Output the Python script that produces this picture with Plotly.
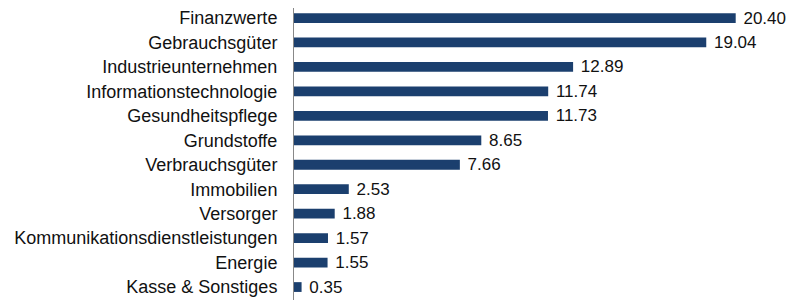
import plotly.graph_objects as go

categories = ["Finanzwerte", "Gebrauchsgüter", "Industrieunternehmen", "Informationstechnologie",
              "Gesundheitspflege", "Grundstoffe", "Verbrauchsgüter", "Immobilien", "Versorger",
              "Kommunikationsdienstleistungen", "Energie", "Kasse & Sonstiges"]
values = [20.40, 19.04, 12.89, 11.74, 11.73, 8.65, 7.66, 2.53, 1.88, 1.57, 1.55, 0.35]
labels = [" " + f"{v:.2f}" for v in values]

fig = go.Figure(go.Bar(
    x=values, y=categories, orientation="h",
    marker=dict(color="#1B3F6E", line=dict(width=0)),
    width=0.4,
    text=labels, textposition="outside", cliponaxis=False, constraintext="none",
    textfont=dict(family="Liberation Sans, Arial, sans-serif", size=17, color="#111111"),
))

fig.update_layout(
    width=787, height=292,
    margin=dict(l=286, r=3, t=0, b=0),
    plot_bgcolor="white", paper_bgcolor="white",
    showlegend=False,
    font=dict(family="Liberation Sans, Arial, sans-serif", size=18, color="#111111"),
)
fig.update_xaxes(range=[0, 23], visible=False)
fig.update_yaxes(range=[11.53, -0.41], showline=True, linecolor="#888888", linewidth=1,
                 ticks="", ticklabelstandoff=12, showgrid=False)

fig.write_html("out.html")
